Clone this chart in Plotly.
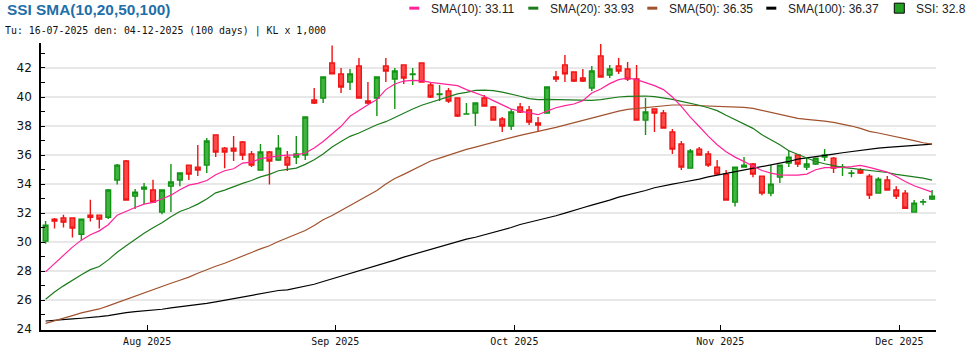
import plotly.graph_objects as go

# ---------------- data ----------------
opens = [30.07, 31.59, 31.66, 31.66, 30.55, 31.86, 31.86, 31.72, 34.28, 35.59,
         33.17, 33.66, 33.59, 32.07, 33.86, 34.28, 35.31, 35.17, 35.31, 37.38,
         36.48, 36.48, 36.90, 36.07, 34.97, 36.21, 35.66, 35.86, 35.86, 36.00,
         39.79, 39.93, 42.34, 41.59, 41.03, 42.14, 39.72, 39.93, 42.14, 41.24,
         42.21, 41.55, 42.34, 40.83, 40.17, 40.41, 39.93, 38.82, 38.90, 39.93,
         39.31, 38.48, 38.00, 39.31, 39.10, 38.21, 38.90, 41.38, 42.21, 41.72,
         41.31, 40.62, 42.83, 41.52, 42.14, 41.93, 41.24, 38.41, 39.17, 38.90,
         37.59, 36.76, 35.10, 36.41, 36.07, 35.17, 34.69, 32.76, 35.17, 35.38,
         34.55, 33.38, 34.48, 35.45, 36.00, 35.17, 35.38, 35.86, 35.79, 35.16,
         34.75, 34.97, 34.55, 33.38, 34.28, 33.59, 33.38, 32.07, 32.76, 32.97]
highs = [31.45, 31.66, 31.89, 31.66, 31.59, 32.92, 31.86, 33.66, 35.38, 35.66,
         33.66, 34.07, 34.30, 33.59, 35.38, 34.76, 35.31, 36.69, 37.17, 37.38,
         36.55, 37.31, 36.97, 36.28, 36.76, 36.28, 37.38, 36.28, 37.31, 38.62,
         40.62, 41.38, 43.54, 42.00, 41.93, 42.69, 41.03, 41.38, 42.69, 42.00,
         42.21, 42.00, 42.34, 40.97, 40.83, 40.62, 39.93, 39.59, 39.59, 40.14,
         39.38, 38.62, 39.17, 39.59, 39.38, 38.62, 40.69, 41.79, 42.90, 41.72,
         41.93, 42.14, 43.65, 42.21, 42.69, 42.41, 42.21, 39.93, 39.17, 39.10,
         37.79, 36.97, 36.41, 36.55, 36.28, 35.66, 34.97, 35.17, 35.86, 35.45,
         34.55, 35.31, 35.31, 36.34, 36.00, 35.79, 35.79, 36.41, 35.86, 35.38,
         34.97, 35.10, 34.69, 34.48, 34.55, 33.86, 33.59, 32.90, 32.97, 33.59]
lows = [29.89, 30.94, 31.01, 30.32, 30.11, 31.43, 30.94, 31.59, 33.98, 32.90,
        32.28, 32.62, 32.69, 31.93, 32.07, 33.86, 34.28, 34.55, 34.76, 35.86,
        35.10, 35.59, 35.66, 35.17, 34.97, 33.98, 35.59, 34.90, 35.38, 35.66,
        39.52, 39.59, 41.59, 40.28, 40.48, 39.93, 39.52, 38.69, 41.03, 39.17,
        40.90, 40.83, 41.03, 39.93, 39.72, 39.59, 38.62, 38.82, 38.00, 39.38,
        38.41, 37.59, 37.72, 38.90, 38.07, 37.59, 38.90, 41.03, 41.03, 41.03,
        41.03, 40.41, 41.38, 41.31, 41.59, 41.10, 38.41, 37.38, 37.59, 37.86,
        36.07, 34.97, 35.10, 36.00, 35.17, 34.69, 32.90, 32.46, 35.17, 34.48,
        33.24, 33.17, 34.07, 35.17, 35.17, 34.97, 35.31, 35.59, 34.76, 34.55,
        34.48, 34.69, 32.97, 33.38, 33.59, 32.97, 32.34, 32.07, 32.55, 32.90]
closes = [31.17, 31.45, 31.38, 30.97, 31.59, 31.72, 31.59, 33.59, 35.31, 32.90,
          33.45, 33.79, 32.76, 33.59, 34.14, 34.76, 34.69, 34.97, 36.97, 36.21,
          36.21, 36.28, 36.00, 35.31, 36.21, 35.59, 36.48, 35.31, 36.07, 38.62,
          39.59, 41.38, 41.59, 40.69, 41.59, 39.93, 39.59, 41.38, 41.79, 41.79,
          41.31, 41.59, 41.03, 40.00, 40.21, 39.72, 38.69, 38.84, 39.59, 39.38,
          38.41, 38.00, 38.97, 38.97, 38.28, 38.07, 40.69, 41.24, 41.59, 41.10,
          41.10, 41.79, 41.38, 41.93, 41.79, 41.24, 38.41, 38.97, 38.90, 37.86,
          36.41, 35.17, 36.28, 36.00, 35.31, 34.69, 32.90, 35.17, 35.31, 34.69,
          33.38, 34.00, 35.31, 35.86, 35.38, 35.38, 35.79, 36.00, 35.10, 35.18,
          34.77, 34.76, 33.24, 34.34, 33.59, 33.17, 32.34, 32.69, 32.78, 33.17]

sma10 = [27.95, 28.51, 29.06, 29.66, 30.14, 30.51, 30.78, 31.20, 31.86, 32.14,
         32.39, 32.62, 32.74, 32.97, 33.24, 33.61, 33.93, 34.05, 34.25, 34.64,
         34.92, 35.06, 35.45, 35.52, 35.75, 35.84, 35.95, 36.00, 36.02, 36.14,
         36.48, 36.94, 37.47, 37.98, 38.67, 39.08, 39.47, 39.82, 40.51, 40.90,
         41.10, 41.15, 41.13, 41.01, 40.94, 40.87, 40.78, 40.51, 40.28, 40.05,
         39.75, 39.45, 39.17, 39.03, 38.90, 38.78, 39.03, 39.26, 39.40, 39.52,
         39.75, 40.28, 40.55, 40.92, 41.20, 41.31, 41.20, 41.01, 40.78, 40.51,
         40.00, 39.36, 38.62, 37.97, 37.30, 36.71, 36.23, 35.86, 35.56, 35.29,
         34.94, 34.76, 34.64, 34.62, 34.62, 34.69, 34.99, 35.13, 35.13, 35.15,
         35.20, 35.29, 35.15, 34.97, 34.83, 34.53, 34.18, 33.89, 33.66, 33.45]
sma20 = [26.07, 26.57, 26.99, 27.40, 27.75, 28.11, 28.32, 28.78, 29.31, 29.75,
         30.21, 30.62, 30.99, 31.33, 31.75, 32.11, 32.34, 32.62, 32.97, 33.40,
         33.59, 33.84, 34.05, 34.25, 34.50, 34.67, 34.92, 35.01, 35.10, 35.36,
         35.68, 36.07, 36.55, 36.94, 37.29, 37.52, 37.82, 38.09, 38.30, 38.60,
         38.90, 39.17, 39.43, 39.63, 39.86, 40.05, 40.21, 40.32, 40.46, 40.47,
         40.44, 40.34, 40.21, 40.05, 39.89, 39.82, 39.84, 39.82, 39.79, 39.77,
         39.77, 39.77, 39.82, 39.93, 40.00, 40.05, 40.07, 40.07, 40.02, 39.95,
         39.84, 39.70, 39.59, 39.43, 39.26, 39.06, 38.74, 38.44, 38.14, 37.84,
         37.40, 37.06, 36.71, 36.30, 36.07, 35.79, 35.56, 35.40, 35.26, 35.15,
         35.08, 35.01, 34.94, 34.90, 34.80, 34.67, 34.60, 34.53, 34.41, 34.28]
sma50 = [24.41, 24.57, 24.76, 24.94, 25.13, 25.26, 25.40, 25.61, 25.84, 26.05,
         26.28, 26.51, 26.74, 26.94, 27.17, 27.38, 27.59, 27.86, 28.11, 28.34,
         28.55, 28.78, 29.03, 29.29, 29.54, 29.75, 30.05, 30.30, 30.53, 30.80,
         31.15, 31.54, 31.84, 32.18, 32.53, 32.90, 33.22, 33.56, 34.00, 34.39,
         34.67, 34.97, 35.26, 35.59, 35.79, 36.00, 36.21, 36.39, 36.55, 36.70,
         36.87, 37.03, 37.20, 37.36, 37.49, 37.59, 37.77, 37.91, 38.07, 38.25,
         38.41, 38.53, 38.71, 38.87, 39.03, 39.15, 39.22, 39.29, 39.36, 39.40,
         39.45, 39.45, 39.43, 39.40, 39.38, 39.36, 39.33, 39.31, 39.29, 39.22,
         39.08, 38.92, 38.76, 38.64, 38.53, 38.46, 38.41, 38.34, 38.25, 38.14,
         38.00, 37.84, 37.63, 37.52, 37.40, 37.26, 37.13, 36.99, 36.85, 36.76]
sma100 = [24.57, 24.60, 24.64, 24.71, 24.76, 24.80, 24.87, 24.94, 25.06, 25.15,
          25.22, 25.26, 25.31, 25.38, 25.47, 25.54, 25.61, 25.68, 25.79, 25.89,
          26.00, 26.11, 26.18, 26.30, 26.42, 26.55, 26.67, 26.71, 26.83, 26.97,
          27.10, 27.29, 27.47, 27.68, 27.86, 28.05, 28.23, 28.39, 28.57, 28.76,
          28.97, 29.15, 29.31, 29.49, 29.66, 29.84, 30.00, 30.21, 30.34, 30.50,
          30.67, 30.80, 31.01, 31.22, 31.36, 31.49, 31.63, 31.82, 32.00, 32.16,
          32.37, 32.55, 32.71, 32.90, 33.10, 33.24, 33.38, 33.56, 33.75, 33.89,
          34.00, 34.11, 34.21, 34.34, 34.50, 34.62, 34.74, 34.83, 34.94, 35.08,
          35.20, 35.31, 35.43, 35.56, 35.72, 35.82, 35.89, 35.98, 36.07, 36.16,
          36.25, 36.34, 36.44, 36.48, 36.53, 36.57, 36.62, 36.67, 36.71, 36.76]

month_labels = ["Aug 2025", "Sep 2025", "Oct 2025", "Nov 2025", "Dec 2025"]
month_first_idx = [12, 33, 53, 76, 96]   # index of first trading day of each month

title_text = "SSI SMA(10,20,50,100)"
subtitle_text = "Tu: 16-07-2025 den: 04-12-2025 (100 days) | KL x 1,000"
legend_items = [
    ("line", "#ff2299", "SMA(10): 33.11"),
    ("line", "#1c7c1c", "SMA(20): 33.93"),
    ("line", "#a0522d", "SMA(50): 36.35"),
    ("line", "#000000", "SMA(100): 36.37"),
    ("box", "#22a022", "SSI: 32.8"),
]

# ---------------- layout geometry (pixels) ----------------
W, H = 970, 350
PL, PR, PT, PB = 40.7, 935.7, 43.3, 330.0

def fx(x):
    return (x - PL) / (PR - PL)

def fy(y):
    return (PB - y) / (PB - PT)

idx = list(range(len(closes)))

fig = go.Figure()
fig.add_trace(go.Candlestick(
    x=idx, open=opens, high=highs, low=lows, close=closes,
    increasing=dict(line=dict(color="#139313", width=1.4), fillcolor="#3fb43f"),
    decreasing=dict(line=dict(color="#f01414", width=1.4), fillcolor="#ff4848"),
    whiskerwidth=0, showlegend=False, hoverinfo="skip",
))
for vals, col in [(sma100, "#000000"), (sma50, "#a0522d"), (sma20, "#1c7c1c"), (sma10, "#ff2299")]:
    fig.add_trace(go.Scatter(x=idx, y=vals, mode="lines",
                             line=dict(color=col, width=1.2),
                             showlegend=False, hoverinfo="skip"))

annotations = []
shapes = []
# title + subtitle
annotations.append(dict(text="<b>" + title_text + "</b>", xref="paper", yref="paper",
                        x=fx(5), y=fy(10), xanchor="left", yanchor="middle", showarrow=False,
                        font=dict(family="Liberation Sans, Arial", size=15.4, color="#1f6fa8")))
annotations.append(dict(text=subtitle_text, xref="paper", yref="paper",
                        x=fx(3), y=fy(31), xanchor="left", yanchor="middle", showarrow=False,
                        font=dict(family="DejaVu Sans Mono", size=9.9, color="#111111")))
# custom legend
leg_sym_x = [409, 528, 647, 766, 894]
for (kind, col, txt), sx in zip(legend_items, leg_sym_x):
    if kind == "line":
        shapes.append(dict(type="line", xref="paper", yref="paper",
                           x0=fx(sx), x1=fx(sx + 10), y0=fy(8.5), y1=fy(8.5),
                           line=dict(color=col, width=3)))
    else:
        shapes.append(dict(type="rect", xref="paper", yref="paper",
                           x0=fx(sx), x1=fx(sx + 10), y0=fy(3.5), y1=fy(13.5),
                           line=dict(color="#000000", width=1), fillcolor=col))
    annotations.append(dict(text=txt, xref="paper", yref="paper",
                            x=fx(sx + 20), y=fy(9), xanchor="left", yanchor="middle",
                            showarrow=False,
                            font=dict(family="Liberation Sans, Arial", size=12, color="#222222")))

fig.update_layout(
    width=W, height=H,
    margin=dict(l=PL, r=W - PR, t=PT, b=H - PB, pad=0, autoexpand=False),
    paper_bgcolor="white", plot_bgcolor="white",
    showlegend=False,
    boxgap=0.25,
    annotations=annotations, shapes=shapes,
    xaxis=dict(
        type="linear", range=[-0.51, 99.44], rangeslider=dict(visible=False),
        tickvals=[i - 0.65 for i in month_first_idx], ticktext=month_labels,
        ticks="inside", ticklen=5, tickwidth=1, tickcolor="black",
        showline=True, linecolor="black", linewidth=1.5,
        showgrid=False, zeroline=False, automargin=False,
        tickfont=dict(family="DejaVu Sans Mono", size=10, color="#111111"),
        ticklabelstandoff=1,
    ),
    yaxis=dict(
        range=[23.95, 43.72], dtick=2, tick0=0,
        ticks="inside", ticklen=4, tickwidth=1, tickcolor="black",
        showline=True, linecolor="black", linewidth=1.5,
        showgrid=True, gridcolor="#e8e8e8", gridwidth=1.5, zeroline=False,
        automargin=False,
        minor=dict(dtick=1, tick0=0, ticks="inside", ticklen=4, tickwidth=1,
                   tickcolor="black", showgrid=False),
        tickfont=dict(family="DejaVu Sans", size=12, color="#111111"),
        ticklabelstandoff=5,
    ),
)

fig.write_html("out.html")
